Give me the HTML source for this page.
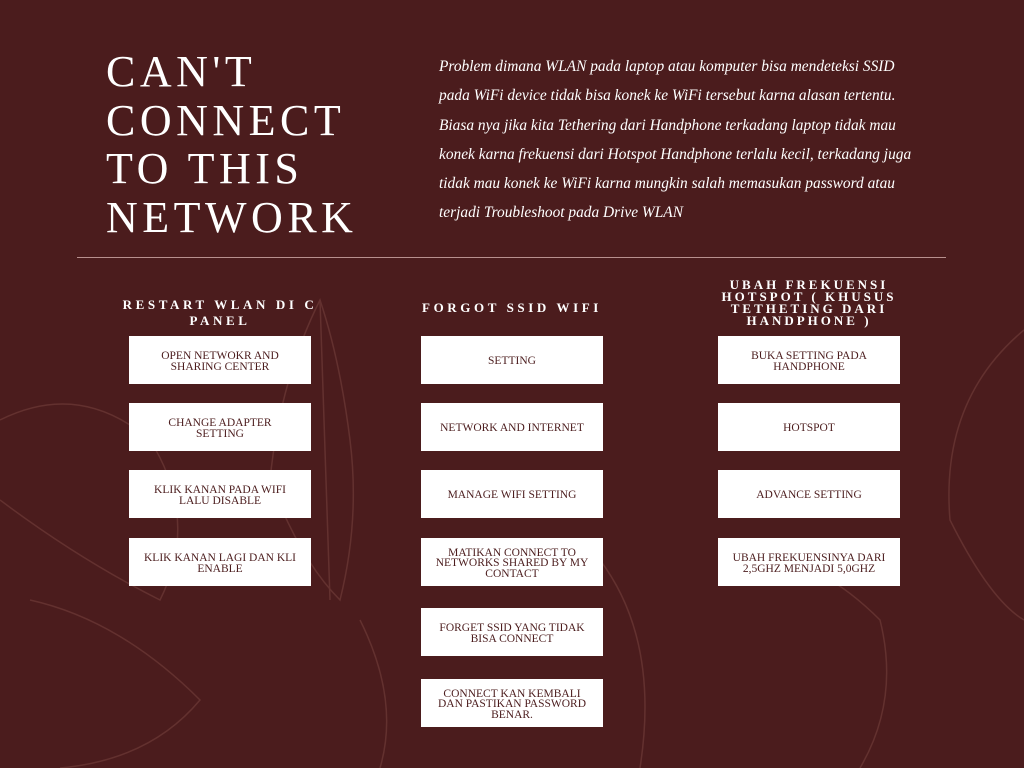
<!DOCTYPE html>
<html><head><meta charset="utf-8"><style>
body{margin:0;width:1024px;height:768px;background:#4b1c1d;position:relative;overflow:hidden;font-family:"Liberation Serif",serif;color:#fff}
.t{position:absolute;left:106px;top:48px;font-size:44px;line-height:48.5px;letter-spacing:4.5px;font-weight:normal}
.d{position:absolute;left:439px;top:52px;white-space:nowrap;font-style:italic;font-size:15.4px;line-height:29.3px}
.hr{position:absolute;left:77px;top:257px;width:869px;height:1px;background:#b8908e}
.h{position:absolute;text-align:center;font-weight:bold;font-size:13px;letter-spacing:3.6px;line-height:12px}
.b{position:absolute;width:182px;height:48px;background:#fff;color:#4b1c1d;font-size:11.5px;line-height:10.5px;display:flex;align-items:center;justify-content:center;text-align:center;padding:3px 18px 0;box-sizing:border-box}
svg{position:absolute;left:0;top:0}
</style></head><body>
<svg width="1024" height="768"><g fill="none" stroke="#6e3a38" stroke-width="1.5" opacity="0.7">
<path d="M320 300 Q280 380 270 480 Q300 560 340 600 Q360 520 350 440 Q340 360 320 300Z"/>
<path d="M320 300 L330 600"/>
<path d="M0 420 Q80 380 150 440 Q200 520 160 600 Q80 560 0 500"/>
<path d="M30 600 Q120 620 200 700 Q150 760 60 768"/>
<path d="M1024 330 Q940 400 950 520 Q990 600 1024 620"/>
<path d="M720 560 Q800 540 880 620 Q900 700 860 768"/>
<path d="M600 560 Q660 640 640 768"/>
<path d="M360 620 Q400 700 380 768"/>
</g></svg>
<div class="t">CAN'T<br>CONNECT<br>TO THIS<br>NETWORK</div>
<div class="d">Problem dimana WLAN pada laptop atau komputer bisa mendeteksi SSID<br>pada WiFi device tidak bisa konek ke WiFi tersebut karna alasan tertentu.<br>Biasa nya jika kita Tethering dari Handphone terkadang laptop tidak mau<br>konek karna frekuensi dari Hotspot Handphone terlalu kecil, terkadang juga<br>tidak mau konek ke WiFi karna mungkin salah memasukan password atau<br>terjadi Troubleshoot pada Drive WLAN</div>
<div class="hr"></div>
<div class="h" style="left:105px;top:297px;width:230px;line-height:16px">RESTART WLAN DI C PANEL</div>
<div class="h" style="left:412px;top:302px;width:200px">FORGOT SSID WIFI</div>
<div class="h" style="left:708px;top:279px;width:202px;letter-spacing:3px">UBAH FREKUENSI<br>HOTSPOT ( KHUSUS<br>TETHETING DARI<br>HANDPHONE )</div>
<div class="b" style="left:129px;top:336px">OPEN NETWOKR AND SHARING CENTER</div>
<div class="b" style="left:129px;top:403px">CHANGE ADAPTER SETTING</div>
<div class="b" style="left:129px;top:470px">KLIK KANAN PADA WIFI LALU DISABLE</div>
<div class="b" style="left:129px;top:538px;padding:3px 10px 0">KLIK KANAN LAGI DAN KLI ENABLE</div>
<div class="b" style="left:421px;top:336px">SETTING</div>
<div class="b" style="left:421px;top:403px;padding:3px 10px 0">NETWORK AND INTERNET</div>
<div class="b" style="left:421px;top:470px">MANAGE WIFI SETTING</div>
<div class="b" style="left:421px;top:538px;padding:3px 10px 0">MATIKAN CONNECT TO NETWORKS SHARED BY MY CONTACT</div>
<div class="b" style="left:421px;top:608px;padding:3px 12px 0">FORGET SSID YANG TIDAK BISA CONNECT</div>
<div class="b" style="left:421px;top:679px;padding:3px 12px 0">CONNECT KAN KEMBALI DAN PASTIKAN PASSWORD BENAR.</div>
<div class="b" style="left:718px;top:336px">BUKA SETTING PADA HANDPHONE</div>
<div class="b" style="left:718px;top:403px">HOTSPOT</div>
<div class="b" style="left:718px;top:470px">ADVANCE SETTING</div>
<div class="b" style="left:718px;top:538px;padding:3px 10px 0">UBAH FREKUENSINYA DARI 2,5GHZ MENJADI 5,0GHZ</div>
</body></html>
